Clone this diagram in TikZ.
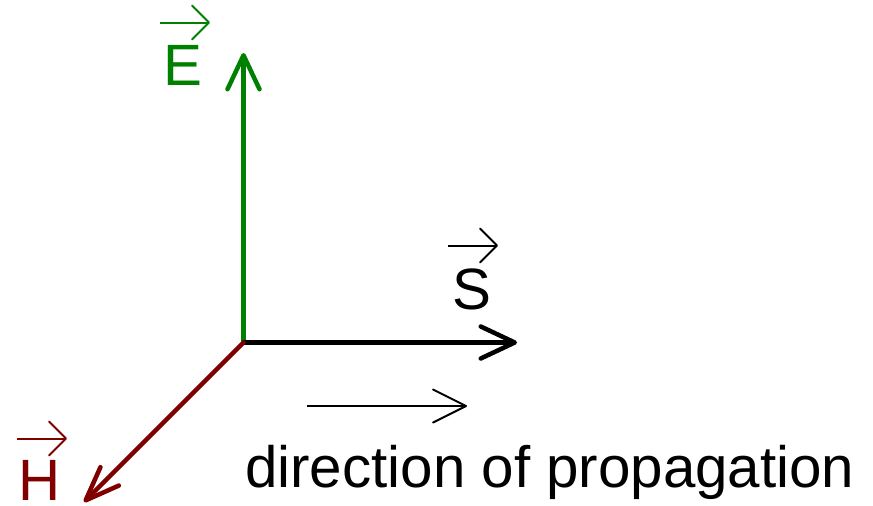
\documentclass[tikz,border=0pt]{standalone}
\usepackage{fontspec}
\setmainfont{Liberation Sans}
\usetikzlibrary{calc,arrows.meta}
\definecolor{egreen}{RGB}{0,128,0}
\definecolor{hred}{RGB}{128,0,0}
\tikzset{
  big/.style={line width=4.5pt, line cap=round},
  bighead/.style={-{Straight Barb[length=34pt,width=32pt,round]}},
  thin/.style={line width=2pt},
  thinhead/.style={-{Straight Barb[length=17pt,width=34pt,round]}},
  lbl/.style={inner sep=0pt, anchor=base west, font=\fontsize{58.3}{60}\selectfont},
}
\begin{document}
\begin{tikzpicture}[x=1pt,y=-1pt]
\useasboundingbox (0,0) rectangle (873,506);
\coordinate (O) at (243.5,342.5);
\coordinate (Etip) at (243.5,53);
\coordinate (Stip) at (517,342.5);
\coordinate (Htip) at (84,502);
% main vectors
\draw[big,bighead,egreen] (O) -- (Etip);
\draw[big,bighead,black] (O) -- (Stip);
\draw[big,hred,-{Straight Barb[length=34pt,width=26pt,round]}] (O) -- (Htip);
% labels
\node[lbl,text=egreen] (E) at (163,85) {E};
\node[lbl,text=black] (S) at (452,309) {S};
\node[lbl,text=hred] (H) at (18,500.5) {H};
% over-arrows
\coordinate (Ea) at (160,22.5); \coordinate (Eb) at (210,22.5);
\coordinate (Sa) at (448,245.5); \coordinate (Sb) at (498,245.5);
\coordinate (Ha) at (17,438.5); \coordinate (Hb) at (67,438.5);
\draw[thin,thinhead,egreen] (Ea) -- (Eb);
\draw[thin,thinhead,black] (Sa) -- (Sb);
\draw[thin,thinhead,hred] (Ha) -- (Hb);
% direction of propagation
\coordinate (Da) at (307,406); \coordinate (Db) at (467,406);
\draw[thin,-{Straight Barb[length=33pt,width=33pt,round]}] (Da) -- (Db);
\node[lbl] (D) at (245,487) {direction of propagation};
\end{tikzpicture}
\end{document}
